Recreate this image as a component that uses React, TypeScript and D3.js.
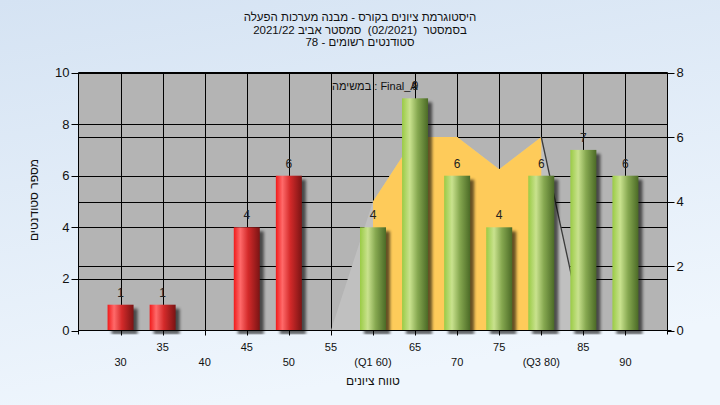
import React from "react";
import * as d3 from "d3";

const categories = [30, 35, 40, 45, 50, 55, 60, 65, 70, 75, 80, 85, 90];
const counts = [1, 1, 0, 4, 6, 0, 4, 9, 6, 4, 6, 7, 6];
const tickLabels = ["30", "35", "40", "45", "50", "55", "(Q1 60)", "65", "70", "75", "(Q3 80)", "85", "90"];
const distX = [55, 60, 65, 70, 75, 80, 85];
const distY = [0, 4, 6, 6, 5, 6, 0];
const q1 = 60;
const q3 = 80;
const failBelow = 57;
const leftTicks = [0, 2, 4, 6, 8, 10];
const rightTicks = [0, 2, 4, 6, 8];
const titleLines = [
  "היסטוגרמת ציונים בקורס - מבנה מערכות הפעלה",
  "בסמסטר  (02/2021)  סמסטר אביב 2021/22",
  "סטודנטים רשומים - 78",
];
const annotation = "במשימה : Final_A";
const yTitle = "מספר סטודנטים";
const xTitle = "טווח ציונים";

const W = 720, H = 405;
const L = 78.5, R = 667.5, T = 72.5, B = 330.5;
const FONT = "'Liberation Sans', 'DejaVu Sans', Arial, sans-serif";

export default function App() {
  const x = d3.scaleLinear().domain([25, 95]).range([L, R]);
  const yL = d3.scaleLinear().domain([0, 10]).range([B, T]);
  const yR = d3.scaleLinear().domain([0, 8]).range([B, T]);
  const barW = 26;

  const pts: [number, number][] = distX.map((d, i) => [d, distY[i]]);
  const area = d3.area<[number, number]>().x(d => x(d[0])).y0(B).y1(d => yR(d[1]));
  const line = d3.line<[number, number]>().x(d => x(d[0])).y(d => yR(d[1]));
  const band = pts.filter(p => p[0] >= q1 && p[0] <= q3);
  const q3i = distX.indexOf(q3);
  const tail = pts.slice(q3i, q3i + 2);

  return (
    <svg width={W} height={H} style={{ position: "fixed", left: 0, top: 0 }} fontFamily={FONT}>
      <defs>
        <linearGradient id="bg" x1="0" y1="0" x2="0.3" y2="1">
          <stop offset="0" stopColor="#d5e3f3" />
          <stop offset="1" stopColor="#eff6fd" />
        </linearGradient>
        <linearGradient id="red" x1="0" x2="1" y1="0" y2="0">
          <stop offset="0" stopColor="#f01a1a" />
          <stop offset="0.25" stopColor="#ff6a6a" />
          <stop offset="0.55" stopColor="#d42a2a" />
          <stop offset="1" stopColor="#7a1414" />
        </linearGradient>
        <linearGradient id="green" x1="0" x2="1" y1="0" y2="0">
          <stop offset="0" stopColor="#9acb45" />
          <stop offset="0.3" stopColor="#c9e28e" />
          <stop offset="0.6" stopColor="#86a850" />
          <stop offset="1" stopColor="#4b6a26" />
        </linearGradient>
        <filter id="blur" x="-50%" y="-10%" width="200%" height="130%">
          <feGaussianBlur stdDeviation="1.6" />
        </filter>
        <clipPath id="plot">
          <rect x={L} y={T} width={R - L} height={B - T + 4} />
        </clipPath>
      </defs>
      <rect x={0} y={0} width={W} height={H} fill="url(#bg)" />
      {titleLines.map((t, i) => (
        <text key={i} x={360} y={21 + i * 12.5} fontSize={11.5} textAnchor="middle" direction="rtl" fill="#111"
          style={{ whiteSpace: "pre" }}>
          {t}
        </text>
      ))}
      <rect x={L} y={T} width={R - L} height={B - T} fill="#b4b4b4" />
      {leftTicks.filter(t => t > 0).map(t => (
        <line key={"gl" + t} x1={L} x2={R} y1={Math.round(yL(t)) + 0.5} y2={Math.round(yL(t)) + 0.5} stroke="#000" />
      ))}
      {rightTicks.filter(t => t > 0 && t < 8).map(t => (
        <line key={"gr" + t} x1={L} x2={R} y1={Math.round(yR(t)) + 0.5} y2={Math.round(yR(t)) + 0.5} stroke="#000" />
      ))}
      {categories.map(c => (
        <line key={"gv" + c} x1={Math.round(x(c)) + 0.5} x2={Math.round(x(c)) + 0.5} y1={T} y2={B} stroke="#000" />
      ))}
      <path d={area(pts) || ""} fill="#c0c0c0" />
      <path d={area(band) || ""} fill="#fecb5a" />
      <path d={line(tail) || ""} fill="none" stroke="#3a3a3a" strokeWidth={1.3} />
      <g clipPath="url(#plot)">
        {categories.map((c, i) =>
          counts[i] > 0 ? (
            <rect key={"s" + c} x={x(c) - barW / 2 + 4} y={yL(counts[i]) + 4} width={barW} height={B - yL(counts[i])}
              fill="#000" opacity={0.6} filter="url(#blur)" />
          ) : null
        )}
      </g>
      {categories.map((c, i) =>
        counts[i] > 0 ? (
          <rect key={"b" + c} x={x(c) - barW / 2} y={yL(counts[i])} width={barW} height={B - yL(counts[i])}
            fill={c < failBelow ? "url(#red)" : "url(#green)"} />
        ) : null
      )}
      <text x={332} y={90} fontSize={11} fill="#111">{annotation}</text>
      {categories.map((c, i) =>
        counts[i] > 0 ? (
          <text key={"v" + c} x={x(c)} y={yL(counts[i]) - 8} fontSize={12} textAnchor="middle" fill="#222">
            {counts[i]}
          </text>
        ) : null
      )}
      <line x1={L} x2={R} y1={T} y2={T} stroke="#000" />
      <line x1={L} x2={L} y1={T} y2={B + 4} stroke="#000" />
      <line x1={R} x2={R} y1={T} y2={B + 4} stroke="#000" />
      <line x1={L} x2={R + 4} y1={B} y2={B} stroke="#000" />
      {leftTicks.map(t => (
        <g key={"lt" + t}>
          <line x1={L - 7} x2={L} y1={Math.round(yL(t)) + 0.5} y2={Math.round(yL(t)) + 0.5} stroke="#000" />
          <text x={L - 9} y={yL(t) + 4.5} fontSize={13} textAnchor="end" fill="#111">{t}</text>
        </g>
      ))}
      {rightTicks.map(t => (
        <g key={"rt" + t}>
          <line x1={R} x2={R + 7} y1={Math.round(yR(t)) + 0.5} y2={Math.round(yR(t)) + 0.5} stroke="#000" />
          <text x={R + 9} y={yR(t) + 4.5} fontSize={13} textAnchor="start" fill="#111">{t}</text>
        </g>
      ))}
      {categories.map((c, i) => (
        <g key={"xt" + c}>
          <line x1={Math.round(x(c)) + 0.5} x2={Math.round(x(c)) + 0.5} y1={B} y2={B + 5} stroke="#000" />
          <text x={x(c)} y={i % 2 === 1 ? 351 : 366} fontSize={11} textAnchor="middle" fill="#111">
            {tickLabels[i]}
          </text>
        </g>
      ))}
      <text x={(L + R) / 2} y={385} fontSize={12} textAnchor="middle" direction="rtl" fill="#111">{xTitle}</text>
      <text transform={`translate(38,200) rotate(-90)`} fontSize={12} textAnchor="middle" direction="rtl" fill="#111">
        {yTitle}
      </text>
    </svg>
  );
}
